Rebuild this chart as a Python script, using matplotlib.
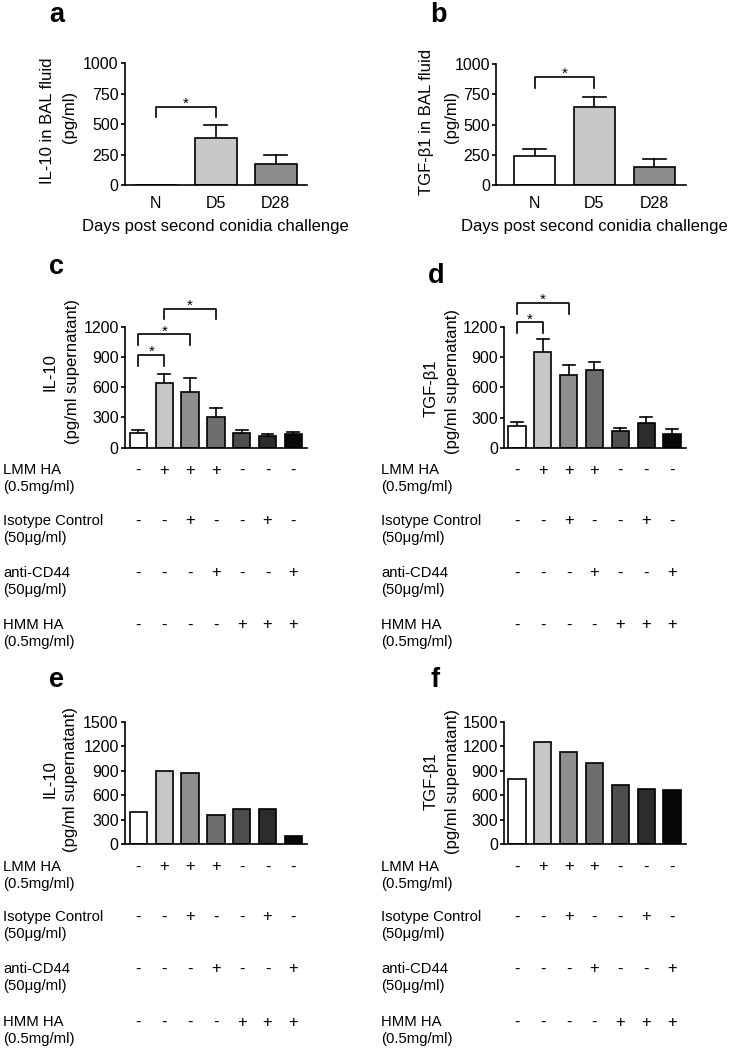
import matplotlib
matplotlib.use('Agg')
import matplotlib.pyplot as plt
from matplotlib.transforms import blended_transform_factory

plt.rcParams['font.family'] = ['Liberation Sans', 'DejaVu Sans']

# ---- data ----
days = ['N', 'D5', 'D28']
il10_bal = [0, 385, 170]
il10_bal_err = [0, 108, 76]
tgf_bal = [240, 649, 152]
tgf_bal_err = [56, 78, 63]
day_colors = ['white', '#c8c8c8', '#8c8c8c']

il10_sup = [150, 638, 555, 307, 142, 116, 132]
il10_sup_err = [30, 92, 133, 83, 33, 19, 27]
tgf_sup = [216, 947, 725, 775, 170, 249, 133]
tgf_sup_err = [43, 137, 99, 73, 29, 60, 50]
il10_e = [390, 900, 875, 350, 430, 428, 98]
tgf_f = [800, 1245, 1130, 990, 725, 675, 660]
group_colors = ['white', '#c6c6c6', '#8e8e8e', '#6e6e6e', '#4e4e4e', '#2c2c2c', '#080808']

treatments = ['LMM HA\n(0.5mg/ml)', 'Isotype Control\n(50μg/ml)',
              'anti-CD44\n(50μg/ml)', 'HMM HA\n(0.5mg/ml)']
signs = [['-', '+', '+', '+', '-', '-', '-'],
         ['-', '-', '+', '-', '-', '+', '-'],
         ['-', '-', '-', '+', '-', '-', '+'],
         ['-', '-', '-', '-', '+', '+', '+']]

# significance brackets: (bar i, bar j, bracket height, leg bottom)
sig_a = [(0, 1, 641, 558)]
sig_b = [(0, 1, 897, 801)]
sig_c = [(0, 1, 919, 813), (0, 2, 1124, 1018), (1, 3, 1375, 1273)]
sig_d = [(0, 1, 1247, 1140), (0, 2, 1440, 1330)]

W, H = 729, 1049
fig = plt.figure(figsize=(W / 100, H / 100), dpi=100)


def fy(y):
    return 1 - y / H


def make_axes(x0, x1, ytop, ybot):
    return fig.add_axes([x0 / W, fy(ybot), (x1 - x0) / W, (ybot - ytop) / H])


def setup(ax, xlim, ymax, step):
    ax.set_xlim(xlim)
    ax.set_ylim(0, ymax)
    ax.set_yticks(range(0, ymax + 1, step))
    for s in ['top', 'right']:
        ax.spines[s].set_visible(False)
    for s in ['left', 'bottom']:
        ax.spines[s].set_linewidth(1.2)
    ax.tick_params(axis='y', length=3, width=1.2, pad=1.5, labelsize=11.5)
    ax.patch.set_alpha(0)


def bars(ax, vals, errs, colors, width, cap):
    xs = list(range(len(vals)))
    ax.bar(xs, vals, width=width, color=colors, edgecolor='black', linewidth=1.2, zorder=2)
    if errs is not None:
        for x, v, e in zip(xs, vals, errs):
            if e > 0:
                ax.plot([x, x], [v, v + e], color='black', lw=1.2, zorder=1, clip_on=False)
                ax.plot([x - cap, x + cap], [v + e, v + e], color='black', lw=1.2,
                        zorder=1, clip_on=False)


def brackets(ax, sig):
    for i, j, top, leg in sig:
        ax.plot([i, i, j, j], [leg, top, top, leg], color='black', lw=1.2, clip_on=False)
        ax.annotate('*', xy=((i + j) / 2, top), xytext=(0, 2), textcoords='offset points',
                    ha='center', va='center', fontsize=11, annotation_clip=False)


def table(ax, label_x, row_y):
    tr = blended_transform_factory(ax.transData, fig.transFigure)
    for k, (lab, row) in enumerate(zip(treatments, signs)):
        y = row_y[k]
        fig.text(label_x / W, fy(y + 8.5), lab, ha='left', va='center', fontsize=10.7)
        for i, s in enumerate(row):
            ax.text(i, fy(y), s, transform=tr, ha='center', va='center', fontsize=12,
                    clip_on=False)


def ylabel(x1, y1, t1, x2, y2, t2):
    fig.text(x1 / W, fy(y1), t1, rotation=90, ha='center', va='center', fontsize=12)
    fig.text(x2 / W, fy(y2), t2, rotation=90, ha='center', va='center', fontsize=12)


def letter(x, y, t):
    fig.text(x / W, fy(y), t, ha='left', va='baseline', fontsize=19.5, fontweight='bold')


# ---- panel a ----
ax_a = make_axes(125, 307, 63.3, 185)
setup(ax_a, (-0.513, 2.52), 1000, 250)
bars(ax_a, il10_bal, il10_bal_err, day_colors, 0.695, 0.19)
brackets(ax_a, sig_a)
ax_a.set_xticks(range(3))
ax_a.set_xticklabels(days)
ax_a.tick_params(axis='x', length=0, pad=8, labelsize=11.5)
ylabel(48, 121, 'IL-10 in BAL fluid', 70, 117, '(pg/ml)')
fig.text(215 / W, fy(226), 'Days post second conidia challenge', ha='center', va='center',
         fontsize=12)
letter(49, 22, 'a')

# ---- panel b ----
ax_b = make_axes(496, 686, 64.3, 185)
setup(ax_b, (-0.643, 2.53), 1000, 250)
bars(ax_b, tgf_bal, tgf_bal_err, day_colors, 0.69, 0.19)
brackets(ax_b, sig_b)
ax_b.set_xticks(range(3))
ax_b.set_xticklabels(days)
ax_b.tick_params(axis='x', length=0, pad=8, labelsize=11.5)
ylabel(427, 122, 'TGF-β1 in BAL fluid', 451, 117, '(pg/ml)')
fig.text(594 / W, fy(226), 'Days post second conidia challenge', ha='center', va='center',
         fontsize=12)
letter(430, 22, 'b')

# ---- panel c ----
ax_c = make_axes(125, 307, 326.7, 447.7)
setup(ax_c, (-0.52, 6.53), 1200, 300)
bars(ax_c, il10_sup, il10_sup_err, group_colors, 0.67, 0.23)
brackets(ax_c, sig_c)
ax_c.set_xticks([])
ylabel(50, 372, 'IL-10', 72, 372, '(pg/ml supernatant)')
table(ax_c, 3, [470, 521, 573, 625])
letter(49, 274, 'c')

# ---- panel d ----
ax_d = make_axes(504, 686, 327, 447.7)
setup(ax_d, (-0.50, 6.54), 1200, 300)
bars(ax_d, tgf_sup, tgf_sup_err, group_colors, 0.67, 0.23)
brackets(ax_d, sig_d)
ax_d.set_xticks([])
ylabel(431, 388, 'TGF-β1', 452, 381, '(pg/ml supernatant)')
table(ax_d, 381, [470, 521, 573, 625])
letter(428, 283, 'd')

# ---- panel e ----
ax_e = make_axes(125, 307, 721.7, 844)
setup(ax_e, (-0.52, 6.53), 1500, 300)
bars(ax_e, il10_e, None, group_colors, 0.67, 0)
ax_e.set_xticks([])
ylabel(50, 779, 'IL-10', 70, 780, '(pg/ml supernatant)')
table(ax_e, 3, [867, 917, 969, 1022])
letter(49, 687, 'e')

# ---- panel f ----
ax_f = make_axes(504, 686, 721.7, 844)
setup(ax_f, (-0.50, 6.54), 1500, 300)
bars(ax_f, tgf_f, None, group_colors, 0.67, 0)
ax_f.set_xticks([])
ylabel(431, 781, 'TGF-β1', 452, 781, '(pg/ml supernatant)')
table(ax_f, 381, [867, 917, 969, 1022])
letter(430, 687, 'f')

fig.savefig('out.png', dpi=100)
